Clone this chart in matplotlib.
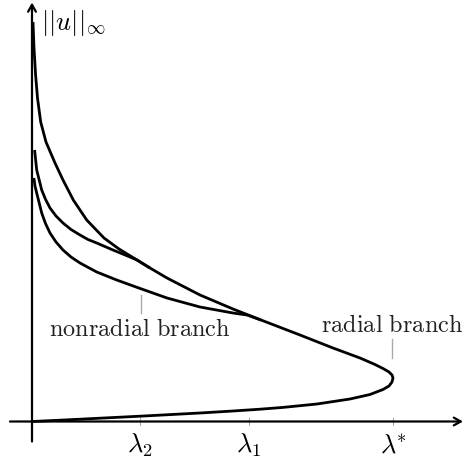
import matplotlib
matplotlib.use("Agg")
import matplotlib.pyplot as plt

plt.rcParams['mathtext.fontset'] = 'cm'
plt.rcParams['font.family'] = ['DejaVu Serif']

# ---- data (lambda, ||u||), arbitrary units ----
radial_lam = [0, 28, 68, 108, 138, 168, 201, 228, 251, 285, 318, 338, 351, 357, 360,
              361, 360, 357, 351, 343, 328, 301, 268, 229, 201, 168, 135, 118, 105,
              87, 72, 54.7, 41.3, 31, 23, 14, 8.7, 5.5, 3.6, 2, 1]
radial_u = [0, 1.3, 3.3, 5.3, 6.9, 8.5, 10.5, 12.3, 14.1, 17.5, 22.5, 27, 32, 35.5,
            39.5, 43.5, 46.5, 49.5, 53, 57, 63.5, 73.5, 86.5, 101.5, 112.5, 126.5,
            143.5, 153.5, 161.5, 172.5, 183.5, 201.5, 221.5, 241.5, 258.5, 279.5,
            299.5, 323.5, 346.5, 373.5, 399.5]

nonradial2_lam = [2.5, 2.7, 4.7, 9.7, 13.6, 18, 24, 31, 39, 48, 56, 64.7, 81, 98, 105,
                  118]
nonradial2_u = [271.5, 270.5, 251.5, 231.5, 222, 213.5, 205.5, 198.5, 192, 186.5,
                182, 178.5, 171.5, 164.5, 161.5, 153.5]

nonradial1_lam = [1.8, 2, 3, 4.7, 9.7, 13.5, 18, 24, 31, 39, 48, 64.7, 84.7, 104,
                  135, 168, 201, 215, 229]
nonradial1_u = [243.5, 242.5, 235.5, 228.5, 208.5, 198, 188.5, 179.5, 171.5, 164.5,
                158.5, 149.5, 141.5, 134.5, 123.5, 114.5, 108.5, 106.5, 101.5]

tick_lam = [108, 217, 361]
tick_labels = [r'$\lambda_2$', r'$\lambda_1$', r'$\lambda^{\!\!*}$']

# ---- figure ----
fig = plt.figure(figsize=(4.65, 4.59), dpi=100)
ax = fig.add_axes([0, 0, 1, 1])
ax.set_xlim(-32, 433)
ax.set_ylim(-37.5, 421.5)
ax.axis('off')

lw_curve = 2.0
for lam, u in [(radial_lam, radial_u), (nonradial2_lam, nonradial2_u),
               (nonradial1_lam, nonradial1_u)]:
    ax.plot(lam, u, color='black', lw=lw_curve, solid_capstyle='butt',
            solid_joinstyle='round', zorder=3)

# axes with arrows
arrow_style = '->,head_length=0.5,head_width=0.28'
ax.annotate('', xy=(431, 0), xytext=(-22, 0),
            arrowprops=dict(arrowstyle=arrow_style, lw=1.6, color='black',
                            shrinkA=0, shrinkB=0))
ax.annotate('', xy=(0, 419), xytext=(0, -20),
            arrowprops=dict(arrowstyle=arrow_style, lw=1.6, color='black',
                            shrinkA=0, shrinkB=0))

# ticks and labels
for lam, lab in zip(tick_lam, tick_labels):
    ax.plot([lam, lam], [-3.5, 3.5], color='#aaaaaa', lw=0.8, zorder=0)
    ax.text(lam, -31, lab, ha='center', va='baseline', fontsize=19)

ax.text(9, 413.5, r'$||u||_\infty$', ha='left', va='top', fontsize=19)

# branch annotations
ax.plot([109, 109], [108.5, 126.5], color='#aaaaaa', lw=1.0)
ax.text(108, 92.5, r'$\mathrm{nonradial\ branch}$', ha='center', va='center',
        fontsize=17.5, color='#222222')
ax.plot([360, 360], [63.5, 82.5], color='#aaaaaa', lw=1.0)
ax.text(360, 96.5, r'$\mathrm{radial\ branch}$', ha='center', va='center',
        fontsize=17.5, color='#222222')

fig.savefig('out.png', dpi=100)
